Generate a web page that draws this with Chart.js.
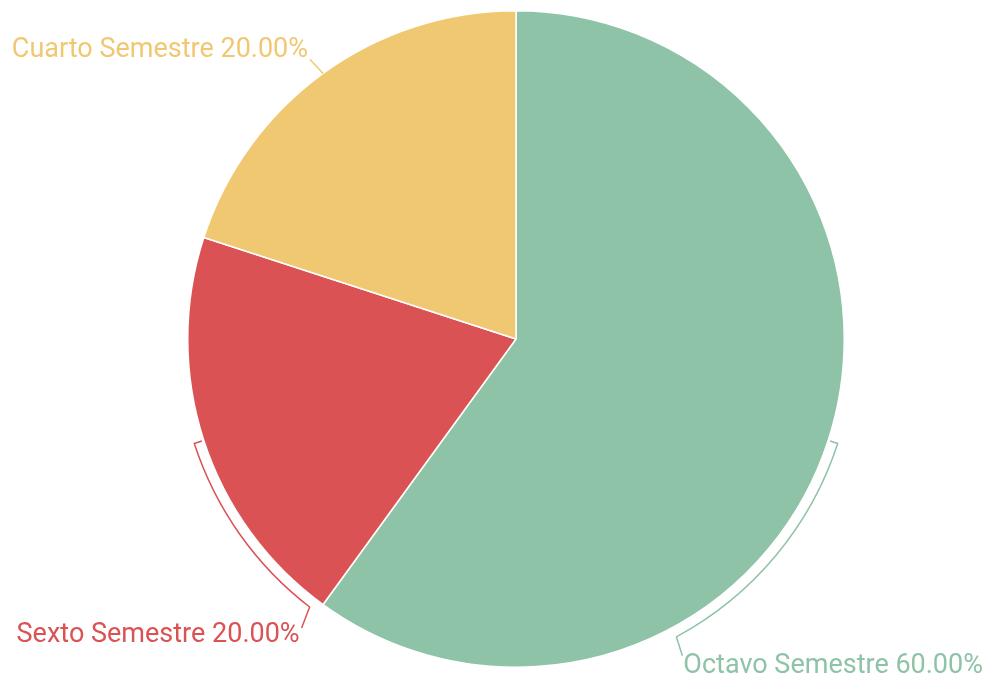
<!DOCTYPE html>
<html>
<head>
<meta charset="utf-8">
<script src="https://cdn.jsdelivr.net/npm/chart.js@4/dist/chart.umd.min.js"></script>
<style>
  html, body { margin: 0; padding: 0; background: #fff; }
  canvas { display: block; }
</style>
</head>
<body>
<canvas id="semesterChart" width="987" height="677"></canvas>
<script>
const semesters = ['Octavo Semestre', 'Sexto Semestre', 'Cuarto Semestre'];
const studentShare = [60, 20, 20];
const sliceColors = ['#8ec3a7', '#db5254', '#f0c871'];

// how each label line is drawn (style only, angles in degrees)
const labelStyle = [
    { kind: 'bracket', sweep: 43.7, dx: 6, dy: 19, tx: 1, ty: 17, align: 'left' },
    { kind: 'bracket', sweep: -34.4, dx: -8, dy: 21, tx: -2, ty: 14, align: 'right' },
    { kind: 'straight', dx: -13, dy: -14, tx: -2, ty: -2, align: 'right' }
];

const outLabels = {
    id: 'outLabels',
    afterDatasetsDraw(chart) {
        const ctx = chart.ctx;
        const meta = chart.getDatasetMeta(0);
        const data = chart.data.datasets[0].data;
        const total = data.reduce((a, b) => a + b, 0);
        ctx.save();
        ctx.font = '27px Roboto';
        ctx.lineWidth = 1.5;
        meta.data.forEach((arc, i) => {
            const st = labelStyle[i];
            const color = sliceColors[i];
            const { x, y, outerRadius, startAngle, endAngle } = arc.getProps(['x', 'y', 'outerRadius', 'startAngle', 'endAngle'], true);
            const mid = (startAngle + endAngle) / 2;
            ctx.strokeStyle = color;
            ctx.fillStyle = color;
            let endX, endY;
            ctx.beginPath();
            if (st.kind === 'bracket') {
                const r = outerRadius + 10;
                ctx.moveTo(x + Math.cos(mid) * (outerRadius + 2), y + Math.sin(mid) * (outerRadius + 2));
                ctx.lineTo(x + Math.cos(mid) * r, y + Math.sin(mid) * r);
                const end = mid + st.sweep * Math.PI / 180;
                ctx.arc(x, y, r, mid, end, st.sweep < 0);
                endX = x + Math.cos(end) * r;
                endY = y + Math.sin(end) * r;
            } else {
                endX = x + Math.cos(mid) * outerRadius;
                endY = y + Math.sin(mid) * outerRadius;
                ctx.moveTo(endX, endY);
            }
            const px = endX + st.dx;
            const py = endY + st.dy;
            ctx.lineTo(px, py);
            ctx.stroke();
            const pct = (data[i] / total * 100).toFixed(2) + '%';
            ctx.textAlign = st.align;
            ctx.textBaseline = 'alphabetic';
            ctx.fillText(chart.data.labels[i] + ' ' + pct, px + st.tx, py + st.ty);
        });
        ctx.restore();
    }
};

function renderSemesterChart() {
    const ctx = document.getElementById('semesterChart').getContext('2d');
    new Chart(ctx, {
        type: 'pie',
        data: {
            labels: semesters,
            datasets: [{
                data: studentShare,
                backgroundColor: sliceColors,
                borderColor: '#ffffff',
                borderWidth: 1.5
            }]
        },
        options: {
            responsive: false,
            animation: false,
            layout: { padding: { top: 10, bottom: 9, left: 45, right: 0 } },
            plugins: {
                legend: { display: false },
                tooltip: { enabled: false }
            }
        },
        plugins: [outLabels]
    });
}

document.fonts.load('27px Roboto').then(renderSemesterChart, renderSemesterChart);
</script>
</body>
</html>
